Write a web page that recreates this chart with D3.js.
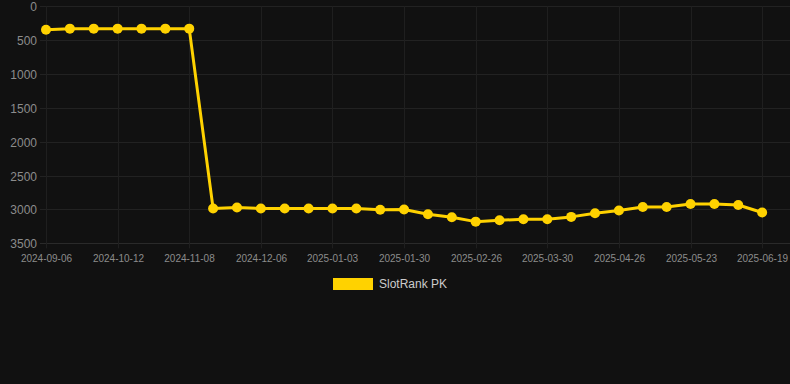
<!DOCTYPE html>
<html>
<head>
<meta charset="utf-8">
<script src="https://cdn.jsdelivr.net/npm/d3@7"></script>
<style>
  html, body { margin: 0; padding: 0; background: #111111; }
  #chart { width: 790px; height: 384px; }
  text { font-family: "Liberation Sans", Arial, sans-serif; }
</style>
</head>
<body>
<div id="chart"></div>
<script>
const CATEGORIES = [
  "2024-09-06", "2024-09-18", "2024-09-30", "2024-10-12", "2024-10-21",
  "2024-10-30", "2024-11-08", "2024-11-17", "2024-11-26", "2024-12-06",
  "2024-12-15", "2024-12-24", "2025-01-03", "2025-01-12", "2025-01-21",
  "2025-01-30", "2025-02-08", "2025-02-17", "2025-02-26", "2025-03-09",
  "2025-03-19", "2025-03-30", "2025-04-08", "2025-04-17", "2025-04-26",
  "2025-05-05", "2025-05-14", "2025-05-23", "2025-06-01", "2025-06-10",
  "2025-06-19", "2025-06-28",
];

const RANK_VALUES = [
  345, 330, 330, 330, 330, 330, 330, 2985, 2970, 2985,
  2985, 2985, 2985, 2985, 3005, 3000, 3070, 3115, 3180, 3160,
  3145, 3145, 3110, 3055, 3015, 2965, 2965, 2920, 2920, 2935,
  3045, null,
];

const X_TICK_LABELS = [
  "2024-09-06", "2024-10-12", "2024-11-08", "2024-12-06", "2025-01-03",
  "2025-01-30", "2025-02-26", "2025-03-30", "2025-04-26", "2025-05-23",
  "2025-06-19",
];

const Y_TICKS = [0, 500, 1000, 1500, 2000, 2500, 3000, 3500];

const SERIES_LABEL = "SlotRank PK";
const LINE_COLOR = "#ffd200";

const width = 790;
const height = 384;
const plot = { left: 46, right: 786, top: 6.3, bottom: 243.3 };

const svg = d3
  .select("#chart")
  .append("svg")
  .attr("width", width)
  .attr("height", height);

svg.append("rect").attr("width", width).attr("height", height).attr("fill", "#111111");

const xScale = d3.scalePoint().domain(CATEGORIES).range([plot.left, plot.right]);

const yScale = d3
  .scaleLinear()
  .domain([0, 3500])
  .range([plot.top, plot.bottom]);

// horizontal grid + y labels
const yAxis = svg.append("g");
Y_TICKS.forEach((tick) => {
  const y = Math.round(yScale(tick)) + 0.5;
  yAxis
    .append("line")
    .attr("x1", 40)
    .attr("x2", width)
    .attr("y1", y)
    .attr("y2", y)
    .attr("stroke", tick === 3500 ? "#2a2a2a" : "#222222")
    .attr("stroke-width", 1);
  yAxis
    .append("text")
    .attr("x", 37)
    .attr("y", y)
    .attr("dy", "0.35em")
    .attr("text-anchor", "end")
    .attr("font-size", 12)
    .attr("fill", "#8c8c8c")
    .text(tick);
});

// vertical grid + x labels
const xAxis = svg.append("g");
X_TICK_LABELS.forEach((label) => {
  const x = Math.round(xScale(label)) + 0.5;
  xAxis
    .append("line")
    .attr("x1", x)
    .attr("x2", x)
    .attr("y1", plot.top)
    .attr("y2", plot.bottom + 5)
    .attr("stroke", "#1f1f1f")
    .attr("stroke-width", 1);
  xAxis
    .append("text")
    .attr("x", x)
    .attr("y", 262)
    .attr("text-anchor", "middle")
    .attr("font-size", 10)
    .attr("fill", "#8c8c8c")
    .text(label);
});

const points = CATEGORIES.map((date, i) => ({ date, value: RANK_VALUES[i] })).filter(
  (d) => d.value !== null
);

const line = d3
  .line()
  .x((d) => xScale(d.date))
  .y((d) => yScale(d.value));

svg
  .append("path")
  .datum(points)
  .attr("fill", "none")
  .attr("stroke", LINE_COLOR)
  .attr("stroke-width", 3)
  .attr("stroke-linejoin", "round")
  .attr("d", line);

svg
  .append("g")
  .selectAll("circle")
  .data(points)
  .join("circle")
  .attr("cx", (d) => xScale(d.date))
  .attr("cy", (d) => yScale(d.value))
  .attr("r", 5)
  .attr("fill", LINE_COLOR);

// legend
const legend = svg.append("g").attr("transform", "translate(333,278)");
legend
  .append("rect")
  .attr("width", 40)
  .attr("height", 12)
  .attr("fill", LINE_COLOR);
legend
  .append("text")
  .attr("x", 46)
  .attr("y", 6)
  .attr("dy", "0.35em")
  .attr("font-size", 12)
  .attr("fill", "#cccccc")
  .text(SERIES_LABEL);
</script>
</body>
</html>
